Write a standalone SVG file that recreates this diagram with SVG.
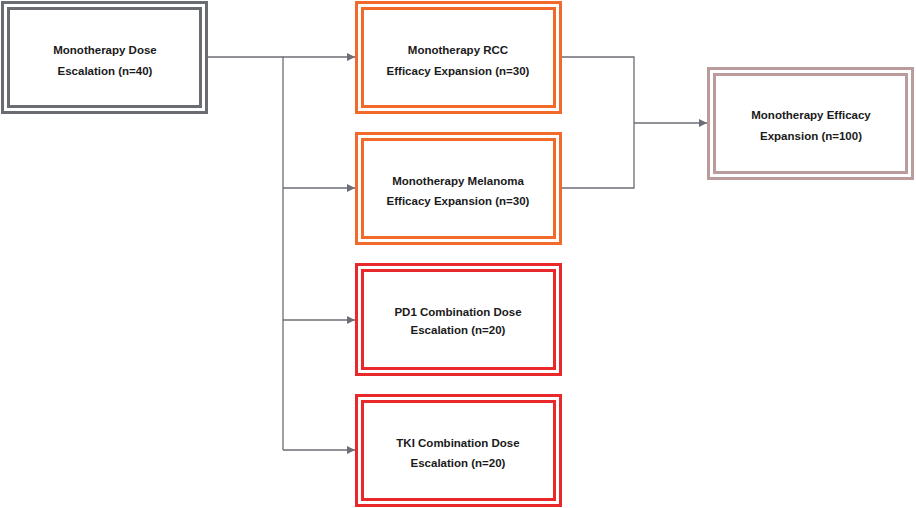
<svg xmlns="http://www.w3.org/2000/svg" width="916" height="508" viewBox="0 0 916 508">
<defs>
<style>
.o{fill:none;stroke-width:3}
.i{fill:#fff;stroke-width:3}
.g{stroke:#6b6c72}
.or{stroke:#f26a2a}
.r{stroke:#e8282b}
.m{stroke:#bb9c9c}
text{font-family:"Liberation Sans",Arial,sans-serif;font-size:11.5px;font-weight:bold;fill:#1a1a1a;text-anchor:middle}
.c{fill:none;stroke:#6b6e76;stroke-width:1.3}
</style>
<marker id="a" viewBox="0 0 10 10" refX="10" refY="5" markerWidth="8" markerHeight="8" markerUnits="userSpaceOnUse" orient="auto">
<path d="M0,0L10,5L0,10z" fill="#6b6e76"/>
</marker>
</defs>
<rect width="916" height="508" fill="#fff"/>
<g id="connectors">
<path class="c" d="M207,57H283V450"/>
<path class="c" d="M283,57H355" marker-end="url(#a)"/>
<path class="c" d="M283,188H355" marker-end="url(#a)"/>
<path class="c" d="M283,320H355" marker-end="url(#a)"/>
<path class="c" d="M283,450H355" marker-end="url(#a)"/>
<path class="c" d="M561,57H634V188H561"/>
<path class="c" d="M634,123H707" marker-end="url(#a)"/>
</g>
<g id="n1">
<rect class="o g" x="2.5" y="2.5" width="204" height="110"/>
<rect class="i g" x="8.5" y="8.5" width="192" height="98"/>
<text x="105" y="54">Monotherapy Dose</text>
<text x="105" y="75">Escalation (n=40)</text>
</g>
<g id="n2">
<rect class="o or" x="356.5" y="2.5" width="204" height="110"/>
<rect class="i or" x="362.5" y="8.5" width="192" height="98"/>
<text x="458" y="54">Monotherapy RCC</text>
<text x="458" y="75">Efficacy Expansion (n=30)</text>
</g>
<g id="n3">
<rect class="o or" x="356.5" y="133.5" width="204" height="110"/>
<rect class="i or" x="362.5" y="139.5" width="192" height="98"/>
<text x="458" y="185">Monotherapy Melanoma</text>
<text x="458" y="205">Efficacy Expansion (n=30)</text>
</g>
<g id="n4">
<rect class="o r" x="356.5" y="264.5" width="204" height="110"/>
<rect class="i r" x="362.5" y="270.5" width="192" height="98"/>
<text x="458" y="316">PD1 Combination Dose</text>
<text x="458" y="334">Escalation (n=20)</text>
</g>
<g id="n5">
<rect class="o r" x="356.5" y="395.5" width="204" height="110"/>
<rect class="i r" x="362.5" y="401.5" width="192" height="98"/>
<text x="458" y="447">TKI Combination Dose</text>
<text x="458" y="467">Escalation (n=20)</text>
</g>
<g id="n6">
<rect class="o m" x="708.5" y="68.5" width="204" height="110"/>
<rect class="i m" x="714.5" y="74.5" width="192" height="98"/>
<text x="811" y="119">Monotherapy Efficacy</text>
<text x="811" y="140">Expansion (n=100)</text>
</g>
</svg>
